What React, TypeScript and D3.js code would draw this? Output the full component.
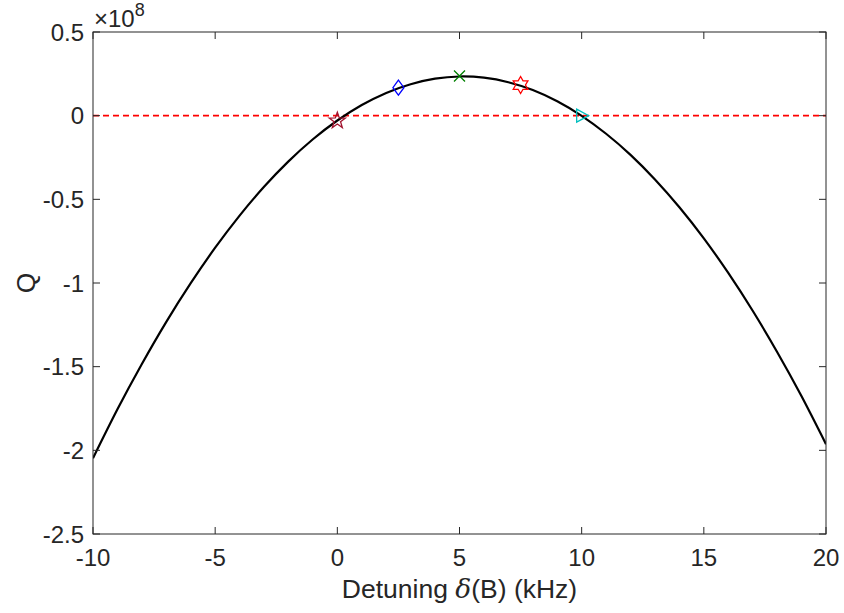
import React from "react";
import * as d3 from "d3";

const detuning = [-10,-9,-8,-7,-6,-5,-4,-3,-2,-1,0,1,2,3,4,5,6,7,8,9,10,11,12,13,14,15,16,17,18,19,20];
const qValues = [-2.047,-1.755,-1.484,-1.232,-1.001,-0.789,-0.597,-0.425,-0.273,-0.141,-0.029,0.0635,0.136,0.188,0.221,0.234,0.227,0.200,0.153,0.086,-0.001,-0.108,-0.234,-0.381,-0.547,-0.733,-0.940,-1.166,-1.412,-1.677,-1.963];
const markerX = [0, 2.5, 5, 7.5, 10];
const markerQ = [-0.03, 0.167, 0.237, 0.183, 0];
const markerShape = ["pentagram", "diamond", "x", "hexagram", "triangleRight"];
const markerColor = ["#A2142F", "#0000FF", "#008000", "#FF0000", "#00BFBF"];
const xTicks = [-10, -5, 0, 5, 10, 15, 20];
const yTicks = [0.5, 0, -0.5, -1, -1.5, -2, -2.5];

const W = 844, H = 613;
const L = 93, R = 826, T = 32, B = 534;

function starPath(cx: number, cy: number, n: number, ro: number, ri: number) {
  const pts: [number, number][] = [];
  for (let i = 0; i < 2 * n; i++) {
    const r = i % 2 === 0 ? ro : ri;
    const a = -Math.PI / 2 + (i * Math.PI) / n;
    pts.push([cx + r * Math.cos(a), cy + r * Math.sin(a)]);
  }
  return "M" + pts.map((p) => p.join(",")).join("L") + "Z";
}

function markerPath(shape: string, cx: number, cy: number) {
  switch (shape) {
    case "pentagram":
      return starPath(cx, cy, 5, 8.5, 3.4);
    case "hexagram":
      return starPath(cx, cy, 6, 8.5, 4.9);
    case "diamond":
      return `M${cx},${cy - 7.5}L${cx + 5.5},${cy}L${cx},${cy + 7.5}L${cx - 5.5},${cy}Z`;
    case "x":
      return `M${cx - 5.5},${cy - 5.5}L${cx + 5.5},${cy + 5.5}M${cx - 5.5},${cy + 5.5}L${cx + 5.5},${cy - 5.5}`;
    case "triangleRight":
      return `M${cx - 5},${cy - 6.5}L${cx + 7},${cy}L${cx - 5},${cy + 6.5}Z`;
    default:
      return "";
  }
}

export default function App() {
  const x = d3.scaleLinear().domain([-10, 20]).range([L, R]);
  const y = d3.scaleLinear().domain([-2.5, 0.5]).range([B, T]);
  const line = d3
    .line<number>()
    .x((_, i) => x(detuning[i]))
    .y((d) => y(d))
    .curve(d3.curveNatural);
  const font = "'Liberation Sans', Arial, Helvetica, sans-serif";
  const axisColor = "#262626";
  const tick = 7;
  return (
    <svg width={W} height={H} style={{ position: "absolute", left: 0, top: 0, background: "#fff" }} fontFamily={font}>
      <rect x={0} y={0} width={W} height={H} fill="#fff" />
      <defs>
        <clipPath id="plot">
          <rect x={L} y={T} width={R - L} height={B - T} />
        </clipPath>
      </defs>
      <line x1={x(-10)} x2={x(20)} y1={y(0)} y2={y(0)} stroke="#FF0000" strokeWidth={1.6} strokeDasharray="6,4" />
      <path d={line(qValues) || ""} fill="none" stroke="#000" strokeWidth={2.2} clipPath="url(#plot)" />
      {markerX.map((mx, i) => {
        const s = markerShape[i];
        return (
          <path
            key={i}
            d={markerPath(s, x(mx), y(markerQ[i]))}
            fill="none"
            stroke={markerColor[i]}
            strokeWidth={1.3}
            strokeLinejoin="miter"
          />
        );
      })}
      <rect x={L} y={T} width={R - L} height={B - T} fill="none" stroke={axisColor} strokeWidth={1} />
      {xTicks.map((t) => (
        <g key={"x" + t}>
          <line x1={x(t)} x2={x(t)} y1={B} y2={B - tick} stroke={axisColor} />
          <line x1={x(t)} x2={x(t)} y1={T} y2={T + tick} stroke={axisColor} />
          <text x={x(t)} y={566} textAnchor="middle" fontSize={24} fill={axisColor}>
            {t}
          </text>
        </g>
      ))}
      {yTicks.map((t) => (
        <g key={"y" + t}>
          <line x1={L} x2={L + tick} y1={y(t)} y2={y(t)} stroke={axisColor} />
          <line x1={R} x2={R - tick} y1={y(t)} y2={y(t)} stroke={axisColor} />
          <text x={84} y={y(t) + 8.5} textAnchor="end" fontSize={24} fill={axisColor}>
            {t}
          </text>
        </g>
      ))}
      <text x={94} y={27} fontSize={24} fill={axisColor}>
        ×10
        <tspan dy={-11} fontSize={18}>8</tspan>
      </text>
      <text transform={`translate(35,${(T + B) / 2}) rotate(-90)`} textAnchor="middle" fontSize={26.5} fill={axisColor}>
        Q
      </text>
      <text x={(L + R) / 2} y={598} textAnchor="middle" fontSize={26.5} fill={axisColor}>
        Detuning <tspan fontStyle="italic" fontFamily="'DejaVu Serif', 'Liberation Serif', serif">δ</tspan>(B) (kHz)
      </text>
    </svg>
  );
}
